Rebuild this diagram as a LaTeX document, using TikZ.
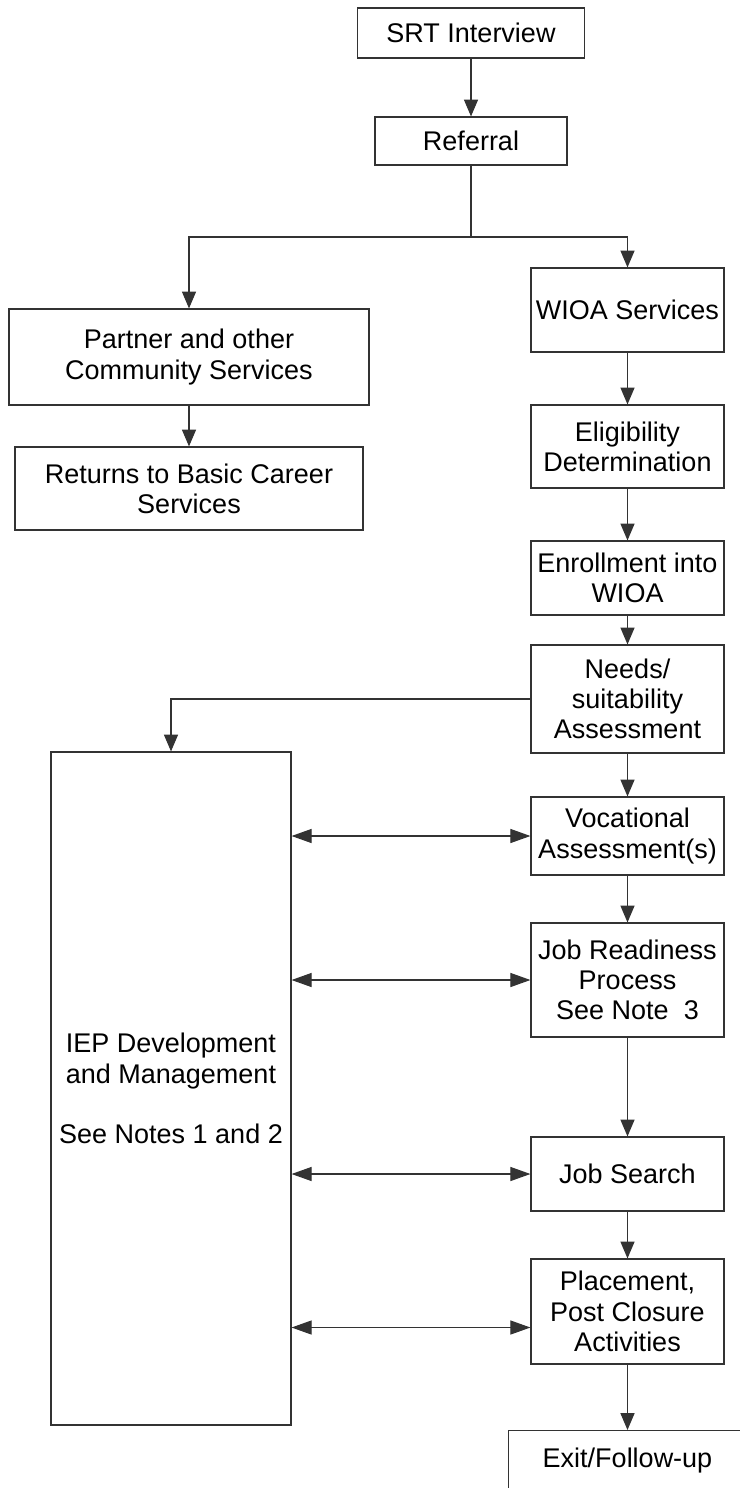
\documentclass[tikz,border=0pt]{standalone}
\usepackage{fontspec}
\setmainfont{Liberation Sans}
\usepackage{tikz}
\usetikzlibrary{calc}
\usetikzlibrary{arrows.meta}

\tikzset{
  box/.style 2 args={draw=black!80, line width=0.8pt, align=center, inner sep=0pt,
    minimum width=#1*0.025cm, minimum height=#2*0.025cm},
  flow/.style={draw=black!80, line width=0.8pt, -{Triangle[length=0.42cm,width=0.35cm]}},
  twoway/.style={draw=black!80, line width=0.8pt,
    {Triangle[length=0.5cm,width=0.35cm]}-{Triangle[length=0.5cm,width=0.35cm]}},
}

\begin{document}
\begin{tikzpicture}[x=0.025cm, y=-0.025cm, font=\fontsize{19.2}{21.5}\selectfont]
      \useasboundingbox (0,0) rectangle (740,1488);
      \clip (0,0) rectangle (740,1488);
      \node[box={227}{50}] (srt) at (471,33) {SRT Interview};
      \node[box={192}{48}] (ref) at (471,141) {Referral};
      \coordinate (split) at (471,237);
      \node[box={360}{96}] (partner) at (189,357) {Partner and other\\Community Services};
      \node[box={348}{83}] (returns) at (189,488.5) {Returns to Basic Career\\Services};
      \node[box={193}{84}] (wioa) at (627.5,310) {WIOA Services};
      \node[box={193}{83}] (elig) at (627.5,446.5) {Eligibility\\Determination};
      \node[box={193}{74}] (enroll) at (627.5,578) {Enrollment into\\WIOA};
      \node[box={193}{108}] (needs) at (627.5,699) {Needs/\\suitability\\Assessment};
      \node[box={240}{673}] (iep) at (171,1088.5) {IEP Development\\and Management\\[21.5pt]See Notes 1 and 2};
      \node[box={193}{78}] (voc) at (627.5,836) {Vocational\\Assessment(s)};
      \node[box={193}{114}] (jrp) at (627.5,980) {Job Readiness\\Process\\See Note~~3};
      \node[box={193}{74}] (search) at (627.5,1174) {Job Search};
      \node[box={193}{105}] (place) at (627.5,1311.5) {Placement,\\Post Closure\\Activities};
      \node[box={238}{0}, anchor=north, text height=0.925cm, text depth=1.5cm] (exit) at (627.5,1430) {Exit/Follow-up};
      \draw[flow] (srt) -- (ref);
      \draw[draw=black!80, line width=0.8pt] (ref) -- (split);
      \draw[flow] (split) -| (partner.north);
      \draw[flow] (split) -| (wioa.north);
      \draw[flow] (partner) -- (returns);
      \draw[flow] (wioa) -- (elig);
      \draw[flow] (elig) -- (enroll);
      \draw[flow] (enroll) -- (needs);
      \draw[flow] (needs.west) -| (iep.north);
      \draw[flow] (needs) -- (voc);
      \draw[flow] (voc) -- (jrp);
      \draw[flow] (jrp) -- (search);
      \draw[flow] (search) -- (place);
      \draw[flow] (place) -- (exit);
      \draw[twoway] (iep.east |- voc.west) -- (voc.west);
      \draw[twoway] (iep.east |- jrp.west) -- (jrp.west);
      \draw[twoway] (iep.east |- search.west) -- (search.west);
      \draw[twoway] ([yshift=-0.4cm]place.west -| iep.east) -- ([yshift=-0.4cm]place.west);
\end{tikzpicture}
\end{document}
